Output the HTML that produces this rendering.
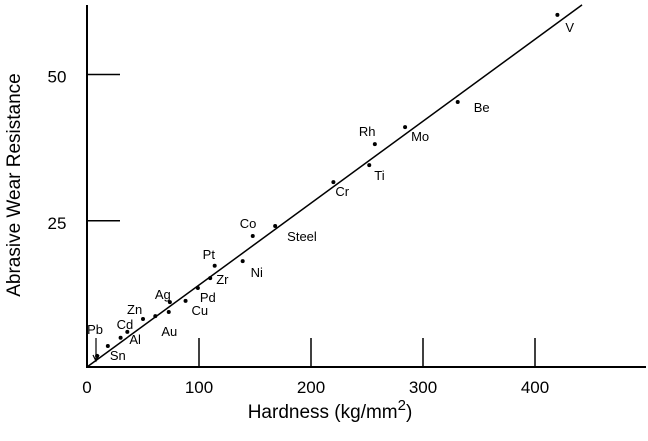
<!DOCTYPE html>
<html><head><meta charset="utf-8"><style>
body{margin:0;background:#fff}
svg{font-family:"Liberation Sans",sans-serif}
</style></head><body>
<svg id="chart" width="648" height="436" viewBox="0 0 648 436">
<g id="axes"></g>
<g id="marks"></g>
<text x="330" y="418" font-size="19" text-anchor="middle">Hardness (kg/mm<tspan dy="-8" font-size="15">2</tspan><tspan dy="8">)</tspan></text>
<text transform="translate(20,185) rotate(-90)" font-size="19" text-anchor="middle">Abrasive Wear Resistance</text>
</svg>
<script>
const names=["Pb","Sn","Cd","Al","Zn","Au","Ag","","Cu","Pd","Zr","Pt","Ni","Co","Steel","Cr","Ti","Rh","Mo","Be","V"];
const hardness=[9,18.6,30,36,50,61,74,73,88,99,110,114,139,148,168,220,252,257,284,331,420];
const wear=[1.9,3.6,5,6,8.2,8.7,11.1,9.4,11.3,13.5,15.2,17.3,18.1,22.4,24.1,31.6,34.5,38.1,41,45.3,60.2];
const xTicks=[0,100,200,300,400];
const yTicks=[25,50];
const fitLine=[[0,0],[442,61.9]];
const labelOff=[[-10,-22],[2,14],[-4,-9],[2,12],[-16,-5],[6,20],[-15,-3],[0,0],[6,14],[2,14],[6,6],[-12,-7],[8,16],[-13,-8],[12,15],[2,14],[5,15],[-16,-8],[6,14],[16,10],[8,17]];
const NS="http://www.w3.org/2000/svg";
const X=v=>87+v*1.12, Y=v=>367-v*5.85;
const ax=document.getElementById('axes'), mk=document.getElementById('marks');
function el(t,a,p){const e=document.createElementNS(NS,t);for(const k in a)e.setAttribute(k,a[k]);p.appendChild(e);return e;}
const ya=el('line',{x1:87,y1:5,x2:87,y2:368,stroke:'#000','stroke-width':2},ax);


const xa=el('line',{x1:87,y1:367,x2:646,y2:367,stroke:'#000','stroke-width':2},ax);


xTicks.forEach(v=>{
 if(v>0){const t=el('line',{x1:X(v),y1:367,x2:X(v),y2:338,stroke:'#000','stroke-width':1.5},ax);
 
 }
 const l=el('text',{x:X(v),y:393,'font-size':17,'text-anchor':'middle'},ax);l.textContent=v;
 
 
});
yTicks.forEach(v=>{
 const t=el('line',{x1:87,y1:Y(v),x2:120,y2:Y(v),stroke:'#000','stroke-width':1.5},ax);
 
 
 const l=el('text',{x:57,y:Y(v)+8,'font-size':17,'text-anchor':'middle'},ax);l.textContent=v;
 
 
});
const fl=el('line',{x1:X(fitLine[0][0]),y1:Y(fitLine[0][1]),x2:X(fitLine[1][0]),y2:Y(fitLine[1][1]),stroke:'#000','stroke-width':1.5},mk);


hardness.forEach((h,i)=>{
 const c=el('circle',{cx:X(h),cy:Y(wear[i]),r:2,fill:'#000'},mk);
 
 
 if(names[i]){const t=el('text',{x:X(h)+labelOff[i][0],y:Y(wear[i])+labelOff[i][1],'font-size':13},mk);t.textContent=names[i];
 
 }
});
const ar=el('path',{d:'M96 338 L96 360 M93 355 L96 361 L99 355',stroke:'#000',fill:'none','stroke-width':1.2},mk);


</script>
</body></html>
